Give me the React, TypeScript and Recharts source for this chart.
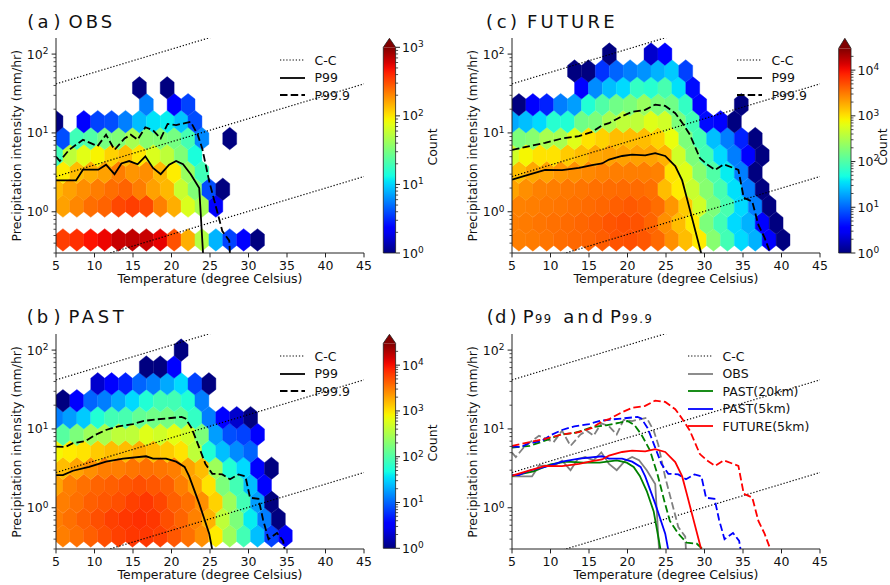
import React from "react";
import { ComposedChart, Scatter, Line, XAxis, YAxis, Legend } from "recharts";

const FONT = "DejaVu Sans, Liberation Sans, sans-serif";
const AXIS = "#222";

// hexbin lattice: bin centres (precipitation per row, temperature per column)
const ROW_P = [0.44, 0.72, 1.18, 1.93, 3.17, 5.18, 8.49, 13.9, 22.8, 37.3, 61.0, 99.9];
const COL_T_EVEN = [5.9, 7.71, 9.51, 11.32, 13.12, 14.93, 16.73, 18.54, 20.34, 22.15, 23.95, 25.76, 27.56, 29.37, 31.17, 32.98, 34.78, 36.59, 38.39, 40.2, 42.0];
const COL_T_ODD = [5.0, 6.81, 8.61, 10.42, 12.22, 14.03, 15.83, 17.64, 19.44, 21.25, 23.05, 24.86, 26.66, 28.47, 30.27, 32.08, 33.88, 35.69, 37.49, 39.3, 41.1];

// counts per hex row (row 0 = lowest), 0 = empty bin
const OBS_HEX = [
  [340, 380, 470, 520, 650, 680, 650, 540, 300, 150, 50, 8, 3.7, 2.3, 1],
  [],
  [165, 200, 240, 260, 320, 340, 320, 210, 150, 70, 45, 2.3],
  [140, 165, 190, 215, 240, 260, 215, 165, 140, 60, 33, 4, 1],
  [95, 135, 150, 165, 215, 180, 190, 140, 95, 40, 19],
  [19, 55, 75, 90, 115, 135, 100, 70, 55, 33, 14],
  [4, 19, 22, 30, 33, 45, 35, 33, 30, 20, 6, 0, 1],
  [1, 0, 2.3, 3.7, 4, 5.6, 8.6, 11, 12, 9, 4],
  [0, 0, 0, 0, 0, 0, 5.6, 0, 2.3, 3.7],
  [0, 0, 0, 0, 0, 0, 1, 0, 1],
];

const PAST_HEX = [
  [3000, 3500, 4200, 5000, 5900, 6500, 6500, 5900, 4600, 3500, 2500, 900, 263, 84, 25, 7, 3.4],
  [3000, 3500, 4200, 5000, 5900, 6500, 7000, 6500, 5000, 4000, 2900, 1700, 400, 175, 40, 13, 1],
  [3000, 3500, 4200, 4600, 5000, 5900, 6500, 5500, 4200, 3500, 2500, 1200, 263, 84, 18, 1],
  [2000, 3000, 3500, 4000, 4200, 4600, 5000, 4600, 4200, 3000, 2000, 1000, 175, 84, 25, 3.4],
  [1500, 2000, 2500, 3000, 3000, 3300, 3500, 3300, 3000, 2000, 1500, 263, 56, 33, 3.4, 1],
  [800, 900, 1000, 1300, 1500, 1500, 1800, 1500, 1300, 1000, 400, 56, 25, 15, 10],
  [110, 175, 263, 300, 400, 400, 600, 500, 650, 500, 175, 18, 8, 7, 3.4],
  [13, 18, 28, 56, 84, 90, 128, 150, 160, 128, 70, 13, 3.4, 2, 1],
  [1, 3.4, 10, 13, 20, 33, 56, 84, 84, 56, 13],
  [0, 0, 0, 2, 3.4, 5, 10, 13, 20, 33, 7, 1],
  [0, 0, 0, 0, 0, 0, 1, 1, 3.4],
  [0, 0, 0, 0, 0, 0, 0, 0, 0, 1],
];

const FUT_HEX = [
  [3000, 3100, 3300, 3600, 3800, 4000, 4300, 4800, 5000, 4600, 3800, 2500, 1500, 900, 200, 84, 33, 22, 3.4, 1],
  [3000, 3100, 3300, 3500, 3700, 3900, 4200, 4700, 5000, 4800, 4000, 2500, 1500, 900, 175, 84, 33, 22, 3.4, 1],
  [2900, 3000, 3200, 3300, 3500, 3700, 3900, 4200, 4500, 4200, 3600, 2300, 1300, 500, 175, 90, 33, 13, 1],
  [2000, 2500, 2900, 3000, 3200, 3300, 3500, 3600, 3700, 3700, 3500, 1500, 900, 450, 200, 90, 35, 13, 1],
  [1500, 1900, 2000, 2300, 2500, 2700, 2900, 3000, 3000, 3000, 2900, 1000, 600, 200, 100, 40, 13, 1],
  [500, 800, 1000, 1000, 1300, 1500, 1900, 2050, 2050, 2050, 2000, 1700, 500, 175, 84, 33, 13, 3.4, 1],
  [175, 200, 300, 300, 600, 1000, 1200, 1500, 1500, 1500, 1200, 700, 175, 84, 25, 13, 5, 1],
  [20, 25, 33, 60, 56, 150, 175, 300, 400, 400, 600, 500, 175, 84, 4, 3.4, 1],
  [1, 3.4, 5, 13, 18, 56, 100, 150, 175, 250, 175, 150, 70, 3.4, 0, 0, 1],
  [0, 0, 0, 0, 0, 3.4, 15, 25, 33, 70, 60, 90, 35, 4],
  [0, 0, 0, 0, 1, 1, 6, 10, 13, 16, 22, 28, 7],
  [0, 0, 0, 0, 0, 0, 0, 1, 0, 0, 2, 3.4],
];

// percentile curves [temperature, mm/hr]
const OBS_P99 = [[5, 2.5], [7.6, 2.5], [8.5, 3.42], [10.5, 3.42], [11.5, 3.95], [12.6, 3.0], [13.5, 4.1], [14.5, 4.4], [15.6, 4.0], [16.6, 5.05], [17.6, 3.6], [18.6, 3.0], [19.7, 3.95], [20.6, 4.4], [21.5, 4.0], [22.5, 3.0], [23.6, 2.0], [24.2, 0.2]];
const OBS_P999 = [[5, 5.0], [5.5, 4.4], [6.7, 6.1], [8.5, 8.2], [10.4, 6.8], [11.5, 9.5], [12.6, 6.1], [13.9, 8.5], [14.7, 9.5], [15.6, 8.2], [16.6, 11.8], [17.6, 10.8], [18.6, 8.5], [19.5, 13.0], [20.6, 12.6], [22.5, 13.8], [23.4, 9.5], [24.0, 6.3], [24.9, 2.43], [25.7, 1.23], [26.6, 0.57], [27.5, 0.43], [27.6, 0.28]];
const PAST_P99 = [[5, 2.6], [5.9, 2.6], [7.2, 2.95], [9.3, 3.3], [11.5, 3.85], [13.7, 4.2], [16.7, 4.5], [17.6, 4.2], [19.3, 4.2], [20.6, 3.85], [21.7, 3.3], [22.3, 2.5], [23.6, 1.13], [24.9, 0.47], [25.3, 0.29]];
const PAST_P999 = [[5, 5.95], [6.2, 5.9], [7.2, 6.6], [8.8, 7.0], [10.1, 8.4], [11.5, 9.7], [13.1, 10.8], [15, 11.5], [16.3, 12.6], [18, 13.2], [19.4, 13.6], [21.3, 14.2], [21.8, 13.6], [22.6, 10.3], [23.6, 5.8], [24.4, 3.6], [25.3, 2.7], [26.6, 2.65], [27.6, 2.3], [28.7, 2.65], [29.6, 2.5], [30.2, 1.34], [31.3, 1.3], [31.9, 0.7], [32.6, 0.4], [33.7, 0.48], [34.5, 0.38], [34.7, 0.29]];
const FUT_P99 = [[5, 2.55], [7.2, 2.95], [9.3, 3.4], [11.5, 3.37], [13.7, 3.6], [15.4, 3.9], [16.7, 4.1], [17.6, 4.6], [19.3, 5.1], [20.6, 5.3], [22.3, 5.2], [23.6, 5.55], [24.9, 5.1], [26.2, 3.8], [27.1, 2.5], [27.7, 1.5], [28.5, 0.75], [29.6, 0.29]];
const FUT_P999 = [[5, 6.1], [7.6, 6.9], [9.3, 7.5], [11.5, 8.5], [13.7, 9.1], [15.4, 10.3], [16.7, 12.5], [17.6, 13.3], [19.3, 16.3], [20.6, 18.5], [22.3, 19.6], [23.6, 22.9], [24.9, 22], [26.2, 17.8], [27.1, 13.5], [28.1, 9.5], [29.4, 4.8], [30.3, 4.0], [31.4, 3.4], [32.5, 4.0], [34.4, 3.4], [35.1, 1.5], [36.2, 1.35], [37.0, 0.68], [37.8, 0.47], [38.6, 0.29]];
const P20_P99 = [[5, 2.53], [7.8, 2.9], [10, 3.55], [12.1, 3.85], [14.3, 3.73], [16.4, 3.73], [18.6, 4.0], [19.9, 3.73], [20.8, 3.3], [21.6, 2.53], [22.5, 1.63], [23.4, 0.9], [24.2, 0.33], [24.3, 0.29]];
const P20_P999 = [[5, 5.8], [7.3, 6.1], [9.1, 7.0], [11.2, 8.4], [13.3, 9.0], [15.5, 10.6], [17.2, 11.1], [19, 12.0], [20, 12.6], [20.9, 11.2], [21.8, 8.5], [22.9, 5.4], [23.9, 2.65], [24.8, 1.2], [25.5, 0.68], [26.6, 0.47], [27.7, 0.36], [29, 0.35], [29.9, 0.29]];

// Clausius-Clapeyron reference lines (7%/K)
const CC_LOW = [[5, 0.187], [45, 2.8]];
const CC_MID = [[5, 2.8], [45, 41.9]];
const CC_HIGH = [[5, 41.9], [45, 627]];

const X_TICKS = [5, 10, 15, 20, 25, 30, 35, 40, 45];
const Y_TICKS = [0.3, 0.4, 0.5, 0.6, 0.7, 0.8, 0.9, 1, 2, 3, 4, 5, 6, 7, 8, 9, 10, 20, 30, 40, 50, 60, 70, 80, 90, 100];

const DOT = "1.25 1.9";
const DASH = "7.5 3.2";
const PLOT_W = 308;
const LOG_MAX_OBS = 3;
const LOG_MAX_SIM = 4.477;

const toPts = (a: number[][]) => a.map(([t, p]) => ({ t, p }));

function hexCells(rows: number[][]) {
  const out: { t: number; p: number; c: number }[] = [];
  rows.forEach((row, r) => {
    const cols = r % 2 === 0 ? COL_T_EVEN : COL_T_ODD;
    row.forEach((c, k) => {
      if (c > 0) out.push({ t: cols[k], p: ROW_P[r], c });
    });
  });
  return out;
}

function interp(pts: number[][], t: number) {
  for (let i = 1; i < pts.length; i++) {
    if (t <= pts[i][0]) {
      const [x0, y0] = pts[i - 1];
      const [x1, y1] = pts[i];
      return y0 + ((y1 - y0) * (t - x0)) / (x1 - x0);
    }
  }
  return pts[pts.length - 1][1];
}

function jet(t: number) {
  const v = Math.max(0, Math.min(1, t));
  const r = interp([[0, 0], [0.35, 0], [0.66, 1], [0.89, 1], [1, 0.5]], v);
  const g = interp([[0, 0], [0.125, 0], [0.375, 1], [0.64, 1], [0.91, 0], [1, 0]], v);
  const b = interp([[0, 0.5], [0.11, 1], [0.34, 1], [0.65, 0], [1, 0]], v);
  return `rgb(${Math.round(r * 255)},${Math.round(g * 255)},${Math.round(b * 255)})`;
}

// hexagon size in px (matches bin spacing on the 308x215 plot)
const HEX_HW = 6.95;
const HEX_TIP = 11.26;
const HEX_SIDE = 5.63;

const makeHex = (logMax: number) => (props: any) => {
  const { cx, cy, payload } = props;
  if (cx == null || cy == null) return <g />;
  const col = jet(Math.log10(payload.c) / logMax);
  const pts = [
    [cx + HEX_HW, cy - HEX_SIDE],
    [cx + HEX_HW, cy + HEX_SIDE],
    [cx, cy + HEX_TIP],
    [cx - HEX_HW, cy + HEX_SIDE],
    [cx - HEX_HW, cy - HEX_SIDE],
    [cx, cy - HEX_TIP],
  ]
    .map((p) => p.join(","))
    .join(" ");
  return <polygon points={pts} fill={col} stroke={col} strokeWidth={0.4} />;
};

const XTick = (props: any) => {
  const { x, y, payload } = props;
  return (
    <g>
      <line x1={x} x2={x} y1={y} y2={y + 4.4} stroke={AXIS} />
      <text x={x} y={y + 16.7} textAnchor="middle" fontFamily={FONT} fontSize={12.5} fill="#111">
        {payload.value}
      </text>
    </g>
  );
};

const YTick = (props: any) => {
  const { x, y, payload } = props;
  const e = Math.log10(payload.value);
  const major = Math.abs(e - Math.round(e)) < 1e-6;
  return (
    <g>
      <line x1={x - (major ? 4.4 : 2.5)} x2={x} y1={y} y2={y} stroke={AXIS} strokeWidth={major ? 1 : 0.8} />
      {major && (
        <text x={x - 7.6} y={y + 4.5} textAnchor="end" fontFamily={FONT} fontSize={12.5} fill="#111">
          10<tspan dy={-4.6} fontSize={9}>{Math.round(e)}</tspan>
        </text>
      )}
    </g>
  );
};

type Item = { label: string; color: string; dash?: string; w: number };

const ABC_LEGEND: Item[] = [
  { label: "C-C", color: "#000", dash: DOT, w: 1.2 },
  { label: "P99", color: "#000", w: 1.8 },
  { label: "P99.9", color: "#000", dash: DASH, w: 1.8 },
];
const D_LEGEND: Item[] = [
  { label: "C-C", color: "#000", dash: DOT, w: 1.2 },
  { label: "OBS", color: "#808080", w: 1.8 },
  { label: "PAST(20km)", color: "#008000", w: 1.8 },
  { label: "PAST(5km)", color: "#0000ff", w: 1.8 },
  { label: "FUTURE(5km)", color: "#ff0000", w: 1.8 },
];

const LegendBox = ({ items }: { items: Item[] }) => (
  <div style={{ fontFamily: FONT, fontSize: 12.5, color: "#111" }}>
    {items.map((it) => (
      <div key={it.label} style={{ display: "flex", alignItems: "center", height: 17.5 }}>
        <svg width={25} height={10} style={{ marginRight: 9.5 }}>
          <line x1={0} x2={25} y1={5} y2={5} stroke={it.color} strokeWidth={it.w} strokeDasharray={it.dash} />
        </svg>
        <span>{it.label}</span>
      </div>
    ))}
  </div>
);

type Series = { data: number[][]; color: string; dash?: string; name: string };

const W = 440;
const H = 295;

// hexbin layer, drawn under the line chart of the same panel
function HexLayer({ yw, hexes, logMax }: { yw: number; hexes: number[][]; logMax: number }) {
  return (
    <ComposedChart width={W} height={H} margin={{ top: 38, right: W - yw - PLOT_W, bottom: 42, left: yw }}>
      <XAxis dataKey="t" type="number" domain={[5, 45]} allowDataOverflow hide />
      <YAxis dataKey="p" type="number" scale="log" domain={[0.3, 160]} allowDataOverflow hide />
      <Scatter name="hex" data={hexCells(hexes)} shape={makeHex(logMax)} isAnimationActive={false} />
    </ComposedChart>
  );
}

function Panel(props: {
  left: number;
  top: number;
  yw: number;
  hexes?: number[][];
  logMax?: number;
  series: Series[];
  legend: Item[];
  legendLeft: number;
}) {
  const { left, top, yw, hexes, logMax = 3, series, legend, legendLeft } = props;
  return (
    <div style={{ position: "absolute", left, top, width: W, height: H }}>
      {hexes && (
        <div style={{ position: "absolute", left: 0, top: 0 }}>
          <HexLayer yw={yw} hexes={hexes} logMax={logMax} />
        </div>
      )}
      <div style={{ position: "absolute", left: 0, top: 0 }}>
        <ComposedChart width={W} height={H} margin={{ top: 38, right: W - yw - PLOT_W, bottom: 0, left: 0 }}>
          {[CC_LOW, CC_MID, CC_HIGH].map((d, i) => (
            <Line key={"cc" + i} data={toPts(d)} dataKey="p" stroke="#000" strokeWidth={1.2} strokeDasharray={DOT} dot={false} activeDot={false} isAnimationActive={false} />
          ))}
          {series.map((s) => (
            <Line key={s.name} name={s.name} data={toPts(s.data)} dataKey="p" stroke={s.color} strokeWidth={1.8} strokeDasharray={s.dash} dot={false} activeDot={false} isAnimationActive={false} />
          ))}
          <XAxis dataKey="t" type="number" domain={[5, 45]} ticks={X_TICKS} interval={0} allowDataOverflow height={42} tickSize={0} tickMargin={0} axisLine={{ stroke: AXIS }} tickLine={false} tick={XTick} />
          <YAxis dataKey="p" type="number" scale="log" domain={[0.3, 160]} ticks={Y_TICKS} interval={0} allowDataOverflow width={yw} tickSize={0} tickMargin={0} axisLine={{ stroke: AXIS }} tickLine={false} tick={YTick} />
          <XAxis xAxisId="top" orientation="top" type="number" domain={[5, 45]} height={0} tick={false} tickLine={false} axisLine={{ stroke: AXIS }} />
          <YAxis yAxisId="right" orientation="right" type="number" domain={[0, 1]} width={0} tick={false} tickLine={false} axisLine={{ stroke: AXIS }} />
          <Legend
            layout="vertical"
            align="center"
            verticalAlign="middle"
            content={() => <LegendBox items={legend} />}
            wrapperStyle={{ position: "absolute", left: legendLeft, top: 51.25, width: 160, height: 90, margin: 0, padding: 0 }}
          />
        </ComposedChart>
      </div>
    </div>
  );
}

const Pow10 = ({ x, y, e }: { x: number; y: number; e: number }) => (
  <text x={x} y={y + 4.5} fontFamily={FONT} fontSize={12.5} fill="#111">
    10<tspan dy={-4.6} fontSize={9}>{e}</tspan>
  </text>
);

function Colorbar({ x, tip, top, bottom, logMax, id }: { x: number; tip: number; top: number; bottom: number; logMax: number; id: string }) {
  const w = 12.3;
  const h = bottom - top;
  const stops = Array.from({ length: 41 }, (_, i) => i / 40);
  const majors = Array.from({ length: Math.floor(logMax) + 1 }, (_, i) => i);
  const minors: number[] = [];
  for (let d = 0; d < logMax; d++) {
    for (let m = 2; m <= 9; m++) {
      const l = d + Math.log10(m);
      if (l < logMax) minors.push(l);
    }
  }
  const yOf = (l: number) => bottom - (l / logMax) * h;
  return (
    <g>
      <defs>
        <linearGradient id={id} x1="0" y1="1" x2="0" y2="0">
          {stops.map((s) => (
            <stop key={s} offset={s} stopColor={jet(s)} />
          ))}
        </linearGradient>
      </defs>
      <rect x={x} y={top} width={w} height={h} fill={`url(#${id})`} />
      <polygon points={`${x},${top} ${x + w},${top} ${x + w / 2},${tip}`} fill={jet(1)} />
      <path d={`M${x},${bottom} L${x},${top} L${x + w / 2},${tip} L${x + w},${top} L${x + w},${bottom} Z`} fill="none" stroke={AXIS} strokeWidth={0.8} />
      {majors.map((l) => (
        <line key={"M" + l} x1={x + w} x2={x + w + 4.4} y1={yOf(l)} y2={yOf(l)} stroke={AXIS} />
      ))}
      {minors.map((l) => (
        <line key={"m" + l} x1={x + w} x2={x + w + 2.5} y1={yOf(l)} y2={yOf(l)} stroke={AXIS} strokeWidth={0.8} />
      ))}
      {majors.map((l) => (
        <Pow10 key={"L" + l} x={x + w + 6.5} y={yOf(l)} e={l} />
      ))}
    </g>
  );
}

const Title = ({ y, parts }: { y: number; parts: { x: number; s: string; size?: number; ls?: number }[] }) => (
  <text y={y} fontFamily={FONT} fontSize={18} fill="#111">
    {parts.map((p, i) => (
      <tspan key={i} x={p.x} fontSize={p.size ?? 18} letterSpacing={p.ls ?? 0}>
        {p.s}
      </tspan>
    ))}
  </text>
);

const YLab = ({ x, y }: { x: number; y: number }) => (
  <text x={x} y={y} transform={`rotate(-90 ${x} ${y})`} textAnchor="middle" fontFamily={FONT} fontSize={12.5} fill="#111">
    Precipitation intensity (mm/hr)
  </text>
);
const XLab = ({ x, y }: { x: number; y: number }) => (
  <text x={x} y={y} textAnchor="middle" fontFamily={FONT} fontSize={12.5} fill="#111">
    Temperature (degree Celsius)
  </text>
);
const CountLab = ({ x, y }: { x: number; y: number }) => (
  <text x={x} y={y} transform={`rotate(-90 ${x} ${y})`} textAnchor="middle" fontFamily={FONT} fontSize={12.5} fill="#111">
    Count
  </text>
);

export default function App() {
  const black = (a: number[][], b: number[][]): Series[] => [
    { data: a, color: "#000", name: "P99" },
    { data: b, color: "#000", dash: DASH, name: "P99.9" },
  ];
  const dSeries: Series[] = [
    { data: OBS_P99, color: "#808080", name: "obs99" },
    { data: OBS_P999, color: "#808080", dash: DASH, name: "obs999" },
    { data: P20_P99, color: "#008000", name: "p20_99" },
    { data: P20_P999, color: "#008000", dash: DASH, name: "p20_999" },
    { data: PAST_P99, color: "#0000ff", name: "p5_99" },
    { data: PAST_P999, color: "#0000ff", dash: DASH, name: "p5_999" },
    { data: FUT_P99, color: "#ff0000", name: "f_99" },
    { data: FUT_P999, color: "#ff0000", dash: DASH, name: "f_999" },
  ];
  return (
    <div style={{ position: "absolute", left: 0, top: 0, width: 890, height: 585, overflow: "hidden", background: "#fff" }}>
      <Panel left={0} top={0} yw={56} hexes={OBS_HEX} logMax={LOG_MAX_OBS} series={black(OBS_P99, OBS_P999)} legend={ABC_LEGEND} legendLeft={280} />
      <Panel left={450} top={0} yw={62} hexes={FUT_HEX} logMax={LOG_MAX_SIM} series={black(FUT_P99, FUT_P999)} legend={ABC_LEGEND} legendLeft={287} />
      <Panel left={0} top={296} yw={56} hexes={PAST_HEX} logMax={LOG_MAX_SIM} series={black(PAST_P99, PAST_P999)} legend={ABC_LEGEND} legendLeft={280} />
      <Panel left={450} top={296} yw={62} series={dSeries} legend={D_LEGEND} legendLeft={238} />
      <svg width={890} height={585} style={{ position: "absolute", left: 0, top: 0, pointerEvents: "none" }}>
        <Title y={28.3} parts={[{ x: 27.3, s: "(" }, { x: 37.5, s: "a" }, { x: 53.5, s: ")" }, { x: 68.5, s: "OBS", ls: 3 }]} />
        <Title y={28.3} parts={[{ x: 486, s: "(" }, { x: 496.7, s: "c" }, { x: 510, s: ")" }, { x: 527, s: "FUTURE", ls: 3.2 }]} />
        <Title y={323.3} parts={[{ x: 26.7, s: "(" }, { x: 36.7, s: "b" }, { x: 53.5, s: ")" }, { x: 68.5, s: "PAST", ls: 3.6 }]} />
        <Title
          y={323.3}
          parts={[
            { x: 486.7, s: "(" },
            { x: 495, s: "d" },
            { x: 509.5, s: ")" },
            { x: 522.7, s: "P" },
            { x: 535, s: "99", size: 11.5, ls: 1.5 },
            { x: 563.3, s: "and", ls: 3 },
            { x: 610, s: "P" },
            { x: 621.7, s: "99.9", size: 11.5, ls: 1.5 },
          ]}
        />
        <YLab x={21} y={145.7} />
        <YLab x={477} y={145.7} />
        <YLab x={21} y={442} />
        <YLab x={477} y={442} />
        <XLab x={210} y={283} />
        <XLab x={666} y={283} />
        <XLab x={210} y={579} />
        <XLab x={666} y={579} />
        <Colorbar id="cbA" x={383.3} tip={38.3} top={47.3} bottom={253} logMax={LOG_MAX_OBS} />
        <Colorbar id="cbC" x={838.7} tip={38.3} top={48.3} bottom={253} logMax={LOG_MAX_SIM} />
        <Colorbar id="cbB" x={383.3} tip={334.3} top={343.3} bottom={548.3} logMax={LOG_MAX_SIM} />
        <CountLab x={436.5} y={147} />
        <CountLab x={886.5} y={147} />
        <CountLab x={436.5} y={443} />
      </svg>
    </div>
  );
}
